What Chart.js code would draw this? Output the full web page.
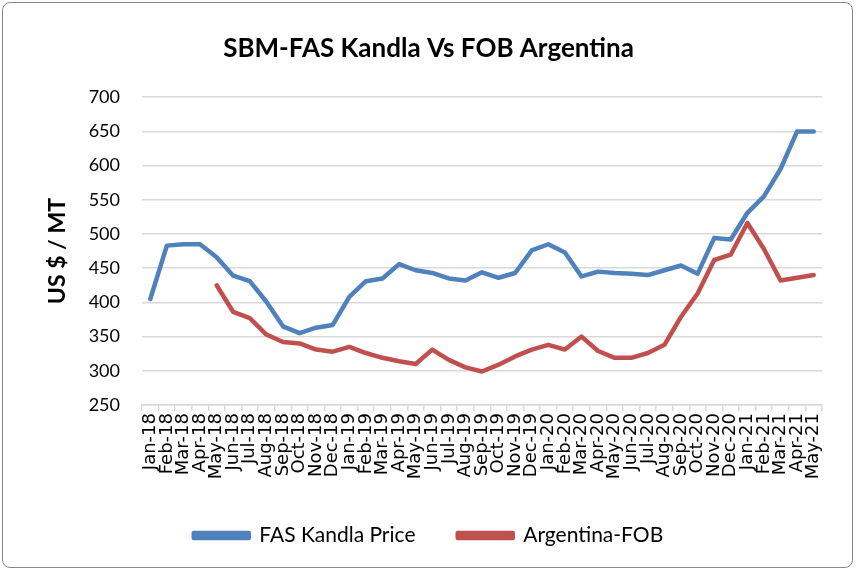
<!DOCTYPE html>
<html>
<head>
<meta charset="utf-8">
<script src="https://cdn.jsdelivr.net/npm/chart.js@4"></script>
<style>
  html, body { margin: 0; padding: 0; background: #fff; }
  #wrap { position: relative; width: 857px; height: 572px; }
  #frame {
    position: absolute; left: 2px; top: 2px; width: 849px; height: 564px;
    border: 1.5px solid #8a8a8a; border-radius: 8px;
  }
  canvas { position: absolute; left: 0; top: 0; }
</style>
</head>
<body>
<div id="wrap">
  <div id="frame"></div>
  <canvas id="myChart" width="857" height="572"></canvas>
</div>
<script>
const months = [
  'Jan-18', 'Feb-18', 'Mar-18', 'Apr-18', 'May-18', 'Jun-18', 'Jul-18', 'Aug-18', 'Sep-18', 'Oct-18', 'Nov-18', 'Dec-18',
  'Jan-19', 'Feb-19', 'Mar-19', 'Apr-19', 'May-19', 'Jun-19', 'Jul-19', 'Aug-19', 'Sep-19', 'Oct-19', 'Nov-19', 'Dec-19',
  'Jan-20', 'Feb-20', 'Mar-20', 'Apr-20', 'May-20', 'Jun-20', 'Jul-20', 'Aug-20', 'Sep-20', 'Oct-20', 'Nov-20', 'Dec-20',
  'Jan-21', 'Feb-21', 'Mar-21', 'Apr-21', 'May-21'
];

const fasKandla = [
  405, 483, 485, 485, 466, 439, 431, 401, 365, 355, 363, 367,
  408, 431, 435, 456, 447, 443, 435, 432, 444, 436, 443, 476,
  485, 473, 438, 445, 443, 442, 440, 447, 454, 442, 494, 492,
  531, 555, 595, 650, 650
];

const argentinaFob = [
  null, null, null, null, 425, 386, 377, 353, 342, 340, 331, 328,
  335, 326, 319, 314, 310, 331, 316, 305, 299, 309, 321, 331,
  338, 331, 350, 329, 319, 319, 326, 338, 379, 413, 462, 470,
  516, 478, 432, 436, 440
];

const yMin = 250, yMax = 700, yStep = 50;

const ctx = document.getElementById('myChart');

new Chart(ctx, {
    type: 'line',
    data: {
        labels: months,
        datasets: [{
            label: 'FAS Kandla Price',
            data: fasKandla,
            borderColor: '#4F81BD',
            backgroundColor: '#4F81BD',
            borderWidth: 4.5,
            pointRadius: 0,
            tension: 0,
            borderJoinStyle: 'round',
            borderCapStyle: 'round'
        }, {
            label: 'Argentina-FOB',
            data: argentinaFob,
            borderColor: '#C0504D',
            backgroundColor: '#C0504D',
            borderWidth: 4.5,
            pointRadius: 0,
            tension: 0,
            borderJoinStyle: 'round',
            borderCapStyle: 'round'
        }]
    },
    options: {
        responsive: false,
        animation: false,
        layout: { padding: { left: 0, right: 0, top: 0, bottom: 16 } },
        scales: {
            x: {
                offset: true,
                afterFit: (scale) => { scale.height = 110; },
                grid: {
                    display: true,
                    drawOnChartArea: false,
                    offset: true,
                    color: '#d9d9d9',
                    lineWidth: 1.5,
                    tickLength: 6
                },
                border: { display: true, color: '#d9d9d9', width: 1.5 },
                ticks: {
                    autoSkip: false,
                    maxRotation: 90,
                    minRotation: 90,
                    padding: 2,
                    color: '#000',
                    font: { family: 'DejaVu Sans', size: 18 }
                }
            },
            y: {
                min: yMin,
                max: yMax,
                afterFit: (scale) => { scale.width = 142; },
                grid: { color: '#d9d9d9', lineWidth: 1.5, drawTicks: false },
                border: { display: false },
                ticks: {
                    stepSize: yStep,
                    padding: 22,
                    color: '#000',
                    font: { family: 'Lato', size: 18 }
                },
                title: {
                    display: true,
                    text: 'US $ / MT',
                    color: '#000',
                    font: { family: 'Lato', size: 23, weight: 'bold' },
                    padding: { top: 44, bottom: 0 }
                }
            },
            // empty right-hand axis, only reserves the margin on the right
            yRight: {
                position: 'right',
                afterFit: (scale) => { scale.width = 35; },
                grid: { display: false },
                border: { display: false },
                ticks: { display: false }
            }
        },
        plugins: {
            title: {
                display: true,
                text: 'SBM-FAS Kandla Vs FOB Argentina',
                color: '#000',
                font: { family: 'Lato', size: 26, weight: 'bold' },
                padding: { top: 33, bottom: 33 }
            },
            legend: {
                position: 'bottom',
                labels: {
                    boxWidth: 55,
                    boxHeight: 5,
                    padding: 10,
                    color: '#000',
                    font: { family: 'Lato', size: 21 },
                    generateLabels: (chart) => {
                        const items = Chart.defaults.plugins.legend.labels.generateLabels(chart);
                        items.forEach((item, i) => {
                            if (i < items.length - 1) item.text += '      ';
                        });
                        return items;
                    }
                }
            },
            tooltip: { enabled: false }
        }
    }
});
</script>
</body>
</html>
